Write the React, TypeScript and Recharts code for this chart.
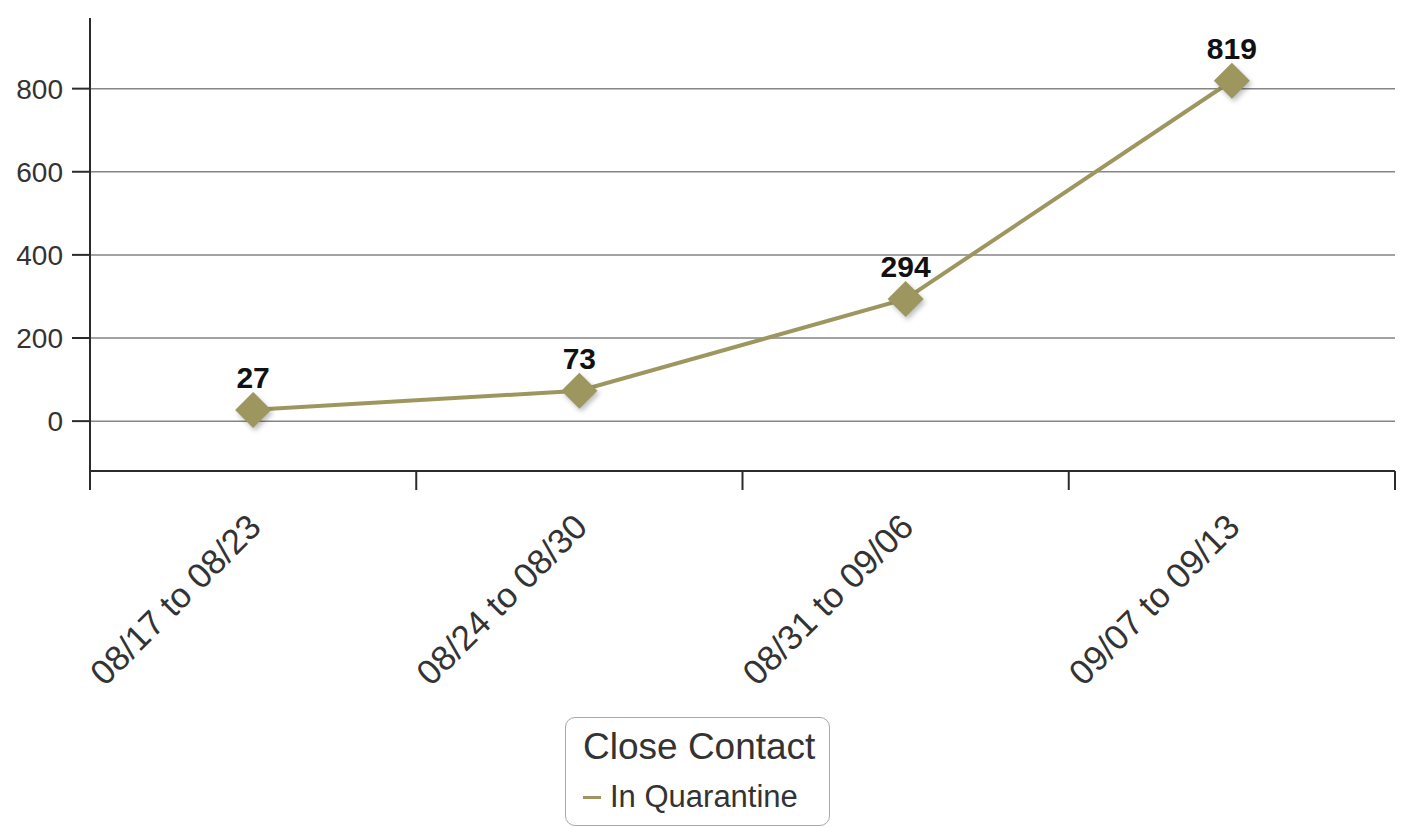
import React from "react";
import { CartesianGrid, LabelList, Legend, Line, LineChart, XAxis, YAxis } from "recharts";

const categories = ["08/17 to 08/23", "08/24 to 08/30", "08/31 to 09/06", "09/07 to 09/13"];
const inQuarantine = [27, 73, 294, 819];
const yTicks = [0, 200, 400, 600, 800];
const seriesName = "In Quarantine";
const legendTitle = "Close Contact";

const OLIVE = "#9d975f";
const AXIS = "#2b2b2b";
const FONT = "'Liberation Sans', Arial, sans-serif";

const data = categories.map((label, i) => ({ slot: i + 0.5, label, value: inQuarantine[i] }));
// band edges (tick marks) and band centres (labels)
const xTicks = [...categories.map((_, i) => i), categories.length, ...categories.map((_, i) => i + 0.5)].sort(
  (a, b) => a - b
);

function XTick(props: any) {
  const { x, y, payload } = props;
  const v = payload.value as number;
  if (Number.isInteger(v)) {
    return <line x1={x} x2={x} y1={y} y2={y + 19} stroke={AXIS} strokeWidth={2} />;
  }
  const text = categories[Math.floor(v)];
  const ax = x + 10;
  const ay = y + 58;
  return (
    <text
      x={ax}
      y={ay}
      textAnchor="end"
      transform={`rotate(-45, ${ax}, ${ay})`}
      fontSize={35}
      fontFamily={FONT}
      fill="#333"
    >
      {text}
    </text>
  );
}

function Diamond(props: any) {
  const { cx, cy, index } = props;
  if (cx == null || cy == null) return null;
  const r = 18;
  const d = `M${cx},${cy - r} L${cx + r},${cy} L${cx},${cy + r} L${cx - r},${cy} Z`;
  return (
    <g key={`dot-${index}`}>
      <defs>
        <filter id={`sh-${index}`} x="-50%" y="-50%" width="200%" height="200%">
          <feGaussianBlur stdDeviation="2.5" />
        </filter>
      </defs>
      <path d={d} fill="rgba(0,0,0,0.25)" transform="translate(2,3)" filter={`url(#sh-${index})`} />
      <path d={d} fill={OLIVE} />
    </g>
  );
}

function LegendBox() {
  return (
    <div
      style={{
        border: "1.5px solid #a8a8a8",
        borderRadius: 10,
        padding: "4px 10px 3px 17px",
        fontFamily: FONT,
        color: "#333",
        background: "#fff",
        width: 236,
      }}
    >
      <div style={{ fontSize: 37, lineHeight: "50px", whiteSpace: "nowrap" }}>{legendTitle}</div>
      <div style={{ fontSize: 31, lineHeight: "50px", display: "flex", alignItems: "center", whiteSpace: "nowrap" }}>
        <span style={{ display: "inline-block", width: 18, height: 3, background: OLIVE, marginRight: 9 }} />
        {seriesName}
      </div>
    </div>
  );
}

export default function App() {
  return (
    <div style={{ width: 1390, height: 820, position: "relative" }}>
      <LineChart width={1390} height={820} data={data} margin={{ top: 10, right: 3, left: 0, bottom: 0 }}>
        <CartesianGrid horizontal vertical={false} horizontalValues={yTicks} stroke="#858585" strokeWidth={1.5} />
        <XAxis
          dataKey="slot"
          type="number"
          domain={[0, categories.length]}
          ticks={xTicks}
          interval={0}
          tickSize={0}
          tickMargin={0}
          tickLine={false}
          tick={<XTick />}
          axisLine={{ stroke: AXIS, strokeWidth: 2 }}
          height={357}
        />
        <YAxis
          domain={[-120, 970]}
          ticks={yTicks}
          interval={0}
          width={82}
          tickSize={18}
          tickMargin={9}
          tickLine={{ stroke: AXIS, strokeWidth: 2 }}
          axisLine={{ stroke: AXIS, strokeWidth: 2 }}
          tick={{ fontSize: 28, fill: "#333", fontFamily: FONT }}
        />
        <Legend
          layout="vertical"
          align="center"
          verticalAlign="middle"
          content={<LegendBox />}
          wrapperStyle={{ position: "absolute", top: 709, left: 557, width: "auto" }}
        />
        <Line
          dataKey="value"
          name={seriesName}
          stroke={OLIVE}
          strokeWidth={4}
          dot={<Diamond />}
          activeDot={false}
          isAnimationActive={false}
        >
          <LabelList
            dataKey="value"
            position="top"
            offset={22}
            fontSize={30}
            fontFamily={FONT}
            fill="#111"
            fontWeight="bold"
          />
        </Line>
      </LineChart>
    </div>
  );
}
